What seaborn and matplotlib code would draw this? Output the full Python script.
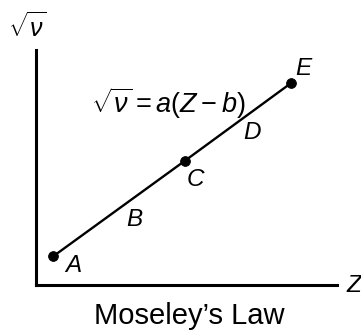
import matplotlib
matplotlib.use("Agg")
import matplotlib.pyplot as plt
import seaborn as sns
import pandas as pd

sns.set_theme(style="white")
plt.rcParams["font.family"] = ["Liberation Sans", "DejaVu Sans"]
plt.rcParams["mathtext.fontset"] = "custom"
plt.rcParams["mathtext.rm"] = "Liberation Sans"
plt.rcParams["mathtext.it"] = "Liberation Sans:italic"
plt.rcParams["mathtext.bf"] = "Liberation Sans:bold"

# Marked elements along the Moseley line (arbitrary units)
labels = ["A", "C", "E"]
z_vals = [0.58, 4.95, 8.46]
sqrt_nu = [1.23, 5.29, 8.58]

# Segment labels placed beside the line
seg_labels = ["A", "B", "C", "D", "E"]
seg_x = [1.25, 3.26, 5.28, 7.18, 8.87]
seg_y = [0.85, 2.8, 4.5, 6.5, 9.2]

df = pd.DataFrame({"Z": z_vals, "sqrt_nu": sqrt_nu, "label": labels})

fig = plt.figure(figsize=(3.61, 3.33), dpi=100)
ax = fig.add_axes([0.0997, 0.144, 0.834, 0.706])

sns.lineplot(data=df, x="Z", y="sqrt_nu", color="black", linewidth=1.7, ax=ax)
sns.scatterplot(data=df, x="Z", y="sqrt_nu", color="black", s=50,
                edgecolor="black", zorder=3, ax=ax)

ax.set_xlim(0, 10)
ax.set_ylim(0, 10)
ax.set_xticks([])
ax.set_yticks([])
ax.set_xlabel("")
ax.set_ylabel("")
for side in ("top", "right"):
    ax.spines[side].set_visible(False)
for side in ("left", "bottom"):
    ax.spines[side].set_color("black")
    ax.spines[side].set_linewidth(2.2)

for t, x, y in zip(seg_labels, seg_x, seg_y):
    ax.text(x, y, t, fontsize=17.5, fontstyle="italic", ha="center", va="center",
            color="black")

ax.text(4.4, 7.75, r"$\sqrt{\nu} = a(Z - b)$", fontsize=19.5, ha="center",
        va="center", color="black")
ax.text(-0.27, 10.95, r"$\sqrt{\nu}$", fontsize=18, ha="center", va="center",
        color="black", clip_on=False)
ax.text(10.56, 0.0, "Z", fontsize=17.5, fontstyle="italic", ha="center",
        va="center", color="black", clip_on=False)
ax.text(5.1, -1.3, "Moseley\u2019s Law", fontsize=21, ha="center", va="center",
        color="black", clip_on=False)

fig.savefig("out.png", dpi=100)
